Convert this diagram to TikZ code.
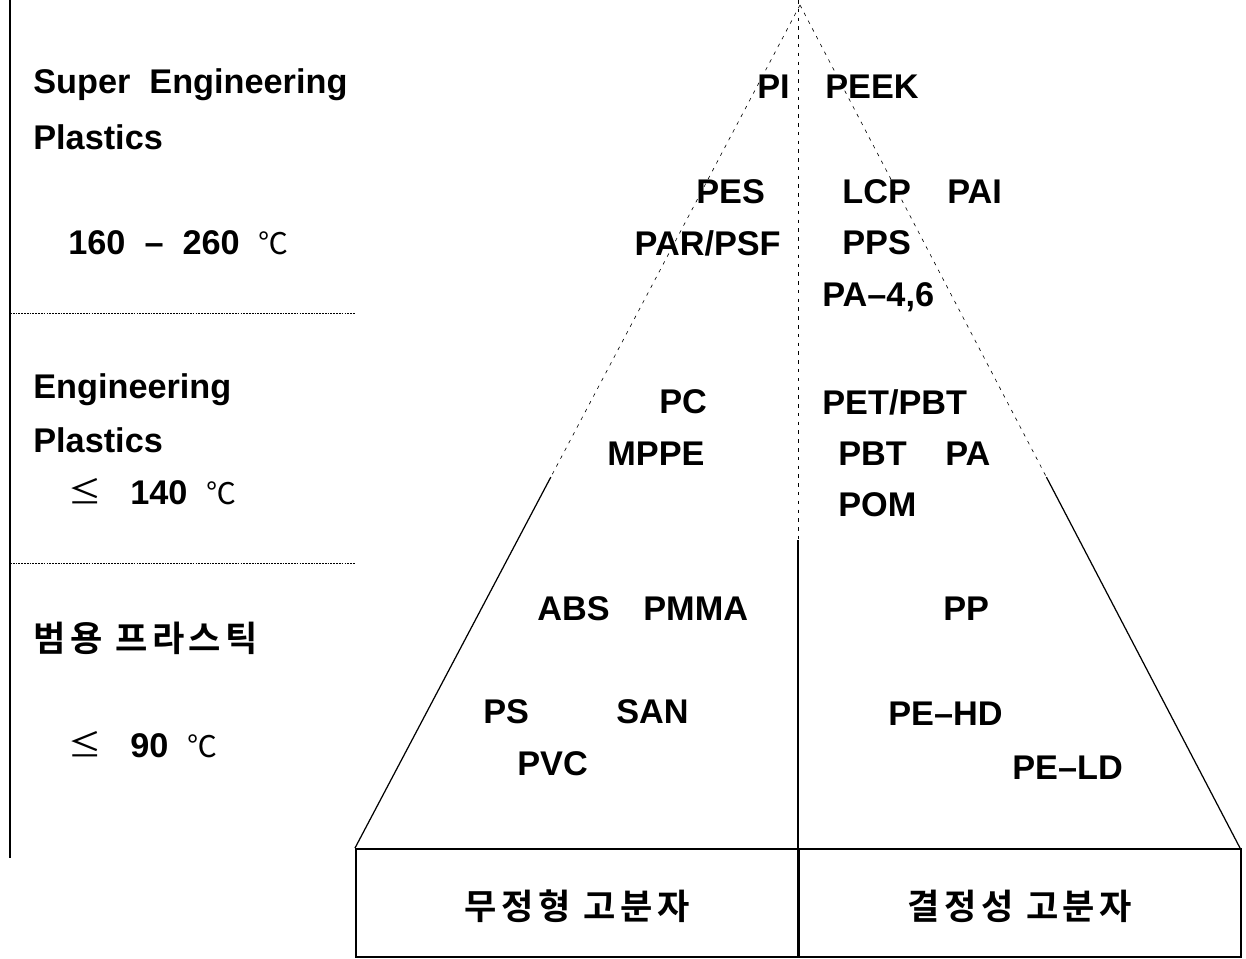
\documentclass[tikz,border=0pt]{standalone}
\usepackage{fontspec}
\setmainfont{Liberation Sans}
\newfontfamily\kor{Noto Sans CJK KR}[BoldFont={* Bold}]
\newfontfamily\korlight{Noto Sans CJK KR}
\usetikzlibrary{calc}
\tikzset{
  lbl/.style={font=\fontsize{19.5}{22}\selectfont\bfseries, inner sep=0pt},
  kl/.style={font=\fontsize{20}{22}\selectfont\kor\bfseries\addfontfeature{LetterSpace=13}, inner sep=0pt},
  faint/.style={line width=0.35pt, dash pattern=on 2pt off 3pt},
  solidline/.style={line width=0.7pt},
  sep/.style={line width=0.5pt, dash pattern=on 1pt off 0.6pt},
}
\newcommand{\degc}{{\fontsize{17}{20}\selectfont\korlight\mdseries ℃}}
\newcommand{\lesym}{{\fontsize{19}{20}\selectfont\korlight\mdseries ≤}}
\begin{document}
\begin{tikzpicture}[x=0.02cm,y=-0.02cm]
\useasboundingbox (0,0) rectangle (1246,958);
% frame coordinates
\coordinate (apex) at (800,5);
\coordinate (bl) at (355,848);
\coordinate (br) at (1240,848);
\coordinate (ctop) at (798,0);
\coordinate (cmid) at (798,540);
\coordinate (cbot) at (798,958);
\coordinate (lmid) at ($(apex)!0.56!(bl)$);
\coordinate (rmid) at ($(apex)!0.56!(br)$);
\coordinate (vtop) at (10,0);
\coordinate (vbot) at (10,858);
\coordinate (s1a) at (10,313);
\coordinate (s1b) at (355,313);
\coordinate (s2a) at (10,563);
\coordinate (s2b) at (355,563);
% pyramid
\draw[faint] (apex) -- (lmid);
\draw[solidline] (lmid) -- (bl);
\draw[faint] (apex) -- (rmid);
\draw[solidline] (rmid) -- (br);
\draw[faint] (ctop) -- (cmid);
\draw[solidline] (cmid) -- (cbot);
% bottom boxes
\node[draw, line width=0.9pt, minimum width=443*0.02cm, minimum height=108*0.02cm, anchor=north west, inner sep=0pt] (boxl) at (355,848) {};
\node[draw, line width=0.9pt, minimum width=442*0.02cm, minimum height=108*0.02cm, anchor=north west, inner sep=0pt] (boxr) at (798,848) {};
\node[kl] (amor) at ([yshift=-2pt]boxl.center) {무정형 고분자};
\node[kl] (cryst) at ([yshift=-2pt]boxr.center) {결정성 고분자};
% left column
\draw[line width=0.6pt] (vtop) -- (vbot);
\draw[sep] (s1a) -- (s1b);
\draw[sep] (s2a) -- (s2b);
\node[lbl, anchor=west] (sep1) at (33,85) {Super\ \ Engineering};
\node[lbl, anchor=west] (sep2) at (33,137) {Plastics};
\node[lbl, anchor=west] (sep3) at (68,243) {160\ \ –\ \ 260\ \ \degc};
\node[lbl, anchor=west] (ep1) at (33,390) {Engineering};
\node[lbl, anchor=west] (ep2) at (33,440) {Plastics};
\node[lbl, anchor=west] (ep3) at (68,492) {\lesym\ \ \ 140\ \ \degc};
\node[kl, anchor=west] (cp1) at (33,638) {범용 프라스틱};
\node[lbl, anchor=west] (cp2) at (68,745) {\lesym\ \ \ 90\ \ \degc};
% polymers
\node[lbl, anchor=east] (PI) at (790,87) {PI};
\node[lbl, anchor=west] (PEEK) at (825,87) {PEEK};
\node[lbl, anchor=west] (PES) at (696,192) {PES};
\node[lbl, anchor=west] (LCP) at (842,192) {LCP};
\node[lbl, anchor=west] (PAI) at (947,192) {PAI};
\node[lbl, anchor=east] (PAR) at (781,243) {PAR/PSF};
\node[lbl, anchor=west] (PPS) at (842,243) {PPS};
\node[lbl, anchor=west] (PA46) at (822,297) {PA–4,6};
\node[lbl, anchor=west] (PC) at (659,402) {PC};
\node[lbl, anchor=west] (PET) at (822,402) {PET/PBT};
\node[lbl, anchor=west] (MPPE) at (607,454) {MPPE};
\node[lbl, anchor=west] (PBT) at (838,454) {PBT};
\node[lbl, anchor=west] (PA) at (945,454) {PA};
\node[lbl, anchor=west] (POM) at (838,505) {POM};
\node[lbl, anchor=west] (ABS) at (537,609) {ABS};
\node[lbl, anchor=west] (PMMA) at (643,609) {PMMA};
\node[lbl, anchor=west] (PP) at (943,609) {PP};
\node[lbl, anchor=west] (PS) at (483,712) {PS};
\node[lbl, anchor=west] (SAN) at (616,712) {SAN};
\node[lbl, anchor=west] (PVC) at (517,764) {PVC};
\node[lbl, anchor=west] (PEHD) at (888,714) {PE–HD};
\node[lbl, anchor=west] (PELD) at (1012,768) {PE–LD};
\end{tikzpicture}
\end{document}
